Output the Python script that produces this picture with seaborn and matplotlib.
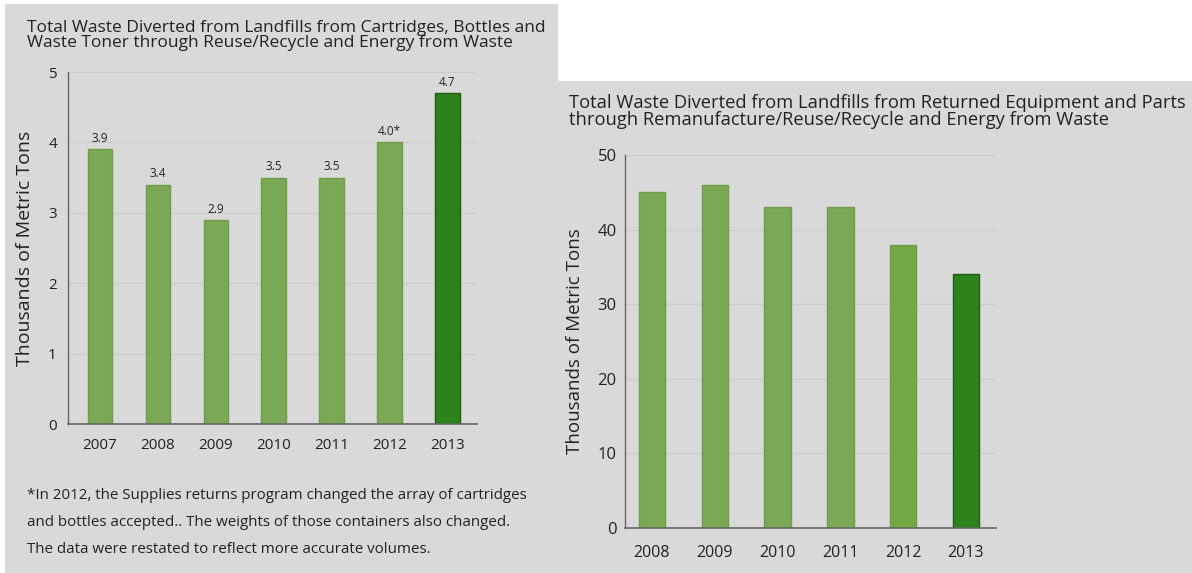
import matplotlib
matplotlib.use("Agg")
import matplotlib.pyplot as plt
from matplotlib.patches import Rectangle
import seaborn as sns
import pandas as pd

# Cartridges, bottles and waste toner (thousands of metric tons)
years_supplies = ["2007", "2008", "2009", "2010", "2011", "2012", "2013"]
supplies_tons = [3.9, 3.4, 2.9, 3.5, 3.5, 4.0, 4.7]
supplies_notes = ["", "", "", "", "", "*", ""]

# Returned equipment and parts (thousands of metric tons)
years_equipment = ["2008", "2009", "2010", "2011", "2012", "2013"]
equipment_tons = [45, 46, 43, 43, 38, 34]

left_yticks = [0, 1, 2, 3, 4, 5]
right_yticks = [0, 10, 20, 30, 40, 50]

title_left = ["Total Waste Diverted from Landfills from Cartridges, Bottles and",
              "Waste Toner through Reuse/Recycle and Energy from Waste"]
title_right = ["Total Waste Diverted from Landfills from Returned Equipment and Parts",
               "through Remanufacture/Reuse/Recycle and Energy from Waste"]
footnote = ["*In 2012, the Supplies returns program changed the array of cartridges",
            "and bottles accepted.. The weights of those containers also changed.",
            "The data were restated to reflect more accurate volumes."]
ylabel = "Thousands of Metric Tons"

sns.set_theme(style="white")
plt.rcParams["font.family"] = ["Open Sans", "DejaVu Sans"]

LIGHT = "#7aa854"
LIGHT_EDGE = "#6f9c4a"
DARK = "#2e821c"
DARK_EDGE = "#1d5e10"
PANEL = "#d9d9d9"
TEXT = "#222222"

W, H = 1192, 573
fig = plt.figure(figsize=(W / 100, H / 100), dpi=100)
fig.patch.set_facecolor("white")


def px_rect(x0, y0, x1, y1):
    return Rectangle((x0 / W, 1 - y1 / H), (x1 - x0) / W, (y1 - y0) / H,
                     transform=fig.transFigure, facecolor=PANEL,
                     edgecolor="none", zorder=-10)


def px_lines(x, baselines, lines, size):
    for y, line in zip(baselines, lines):
        fig.text(x / W, 1 - y / H, line, ha="left", va="baseline",
                 fontsize=size, color=TEXT)


# Grey panels behind both charts
fig.patches.append(px_rect(5, 4, 558, 573))
fig.patches.append(px_rect(557, 81, 1192, 573))


def draw_panel(ax, years, values, palette_override=None):
    df = pd.DataFrame({"year": years, "tons": values})
    colors = {y: LIGHT for y in years}
    colors[years[-1]] = DARK
    if palette_override:
        colors.update(palette_override)
    sns.barplot(data=df, x="year", y="tons", hue="year", palette=colors,
                legend=False, ax=ax, width=0.42, saturation=1)
    for patch, y in zip(ax.patches, years):
        patch.set_edgecolor(DARK_EDGE if y == years[-1] else LIGHT_EDGE)
        patch.set_linewidth(1.0)
    ax.set_facecolor("none")
    ax.grid(axis="y", color="#cbcbcb", linewidth=0.9)
    ax.set_axisbelow(True)
    for side in ("top", "right"):
        ax.spines[side].set_visible(False)
    ax.spines["left"].set_color("#666666")
    ax.spines["bottom"].set_color("#666666")
    ax.spines["left"].set_linewidth(1.0)
    ax.spines["bottom"].set_linewidth(1.2)
    ax.tick_params(axis="both", length=0, colors=TEXT)
    ax.set_xlabel("")


# Left chart
axl = fig.add_axes([68 / W, 1 - 424 / H, 409 / W, 352 / H])
draw_panel(axl, years_supplies, supplies_tons)
axl.set_ylim(0, 5)
axl.set_yticks(left_yticks)
axl.set_xlim(-0.55, len(years_supplies) - 0.49)
axl.tick_params(axis="x", pad=10, labelsize=11)
axl.tick_params(axis="y", pad=8, labelsize=11)
axl.set_ylabel(ylabel, fontsize=14, color=TEXT, labelpad=10)
labels = [f"{v:.1f}{n}" for v, n in zip(supplies_tons, supplies_notes)]
for patch, lab in zip(axl.patches, labels):
    axl.annotate(lab, (patch.get_x() + patch.get_width() / 2, patch.get_height()),
                 xytext=(0, 3), textcoords="offset points", ha="center",
                 va="bottom", fontsize=8.5, color=TEXT)

# Right chart
axr = fig.add_axes([625 / W, 1 - 528 / H, 371 / W, 373 / H])
draw_panel(axr, years_equipment, equipment_tons, {"2012": "#73a845"})
axr.set_ylim(0, 50)
axr.set_yticks(right_yticks)
axr.set_xlim(-0.43, len(years_equipment) - 0.52)
axr.tick_params(axis="x", pad=12, labelsize=11.5)
axr.tick_params(axis="y", pad=6, labelsize=12)
axr.set_ylabel(ylabel, fontsize=13.5, color=TEXT, labelpad=10)

# Titles and footnote
px_lines(27, [32, 47], title_left, 12.5)
px_lines(569, [108, 125], title_right, 13.2)
px_lines(27, [499, 526, 553], footnote, 10.9)

fig.savefig("out.png", dpi=100, facecolor=fig.get_facecolor())
